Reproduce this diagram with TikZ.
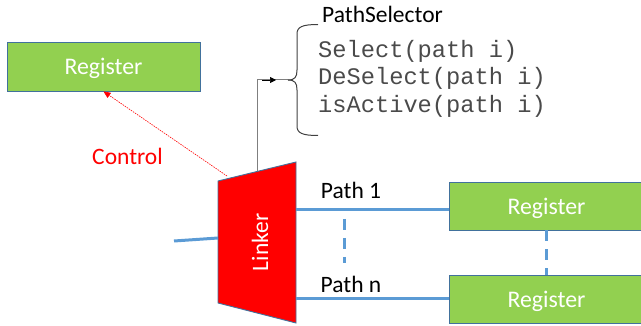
\documentclass[tikz,border=0pt]{standalone}
\usepackage{fontspec}
\setmainfont{Carlito}
\newfontfamily\monofnt{Liberation Mono}
\usetikzlibrary{arrows.meta}
\definecolor{regGreen}{HTML}{92D050}
\definecolor{regBorder}{HTML}{41719C}
\definecolor{wireBlue}{HTML}{5B9BD5}
\definecolor{linkRed}{HTML}{FF0000}
\definecolor{connGray}{HTML}{7F7F7F}
\definecolor{braceGray}{HTML}{404040}
\definecolor{monoGray}{HTML}{4A4A4A}
\tikzset{
  regbox/.style={draw=regBorder, line width=0.9pt, fill=regGreen, text=white,
    font=\fontsize{23.8}{26}\selectfont, inner sep=0pt, text depth=0pt},
  wire/.style={draw=wireBlue, line width=3pt},
  dashwire/.style={draw=wireBlue, line width=3pt, dash pattern=on 11pt off 8pt},
  lbl/.style={font=\fontsize{23.5}{26}\selectfont, inner sep=0pt},
  monotxt/.style={font=\monofnt\fontsize{23.7}{26}\selectfont, text=monoGray, inner sep=0pt, anchor=west},
}
\begin{document}
\begin{tikzpicture}[x=1pt,y=-1pt]
\useasboundingbox (0,0) rectangle (641,326);
% registers
\node[regbox, minimum width=193pt, minimum height=49pt] (regTop) at (103.5,66.5) {Register};
\node[regbox, minimum width=195pt, minimum height=48pt] (reg1) at (546.5,206) {Register};
\node[regbox, minimum width=195pt, minimum height=48pt] (regN) at (546.5,299) {Register};
% linker trapezoid
\coordinate (lTL) at (218,181);
\coordinate (lTR) at (296,162);
\coordinate (lBR) at (296,323);
\coordinate (lBL) at (218,303);
\draw[draw=regBorder, line width=0.9pt, fill=linkRed] (lTL) -- (lTR) -- (lBR) -- (lBL) -- cycle;
\node[lbl, text=white, rotate=90] (linker) at (260,242.5) {Linker};
% input wire
\coordinate (inL) at (174,241);
\coordinate (inR) at (218,238);
\draw[wire] (inL) -- (inR);
% path wires
\coordinate (p1L) at (296,210);
\coordinate (pnL) at (296,298.5);
\draw[wire] (p1L) -- (p1L -| reg1.west);
\draw[wire] (pnL) -- (pnL -| regN.west);
\node[lbl] (path1) at (351,190) {Path 1};
\node[lbl] (pathN) at (351,284) {Path n};
\coordinate (d1a) at (344,219);
\coordinate (d1b) at (344,263);
\draw[dashwire] (d1a) -- (d1b);
\draw[dashwire] (reg1.south) -- (regN.north);
% control arrow
\coordinate (ctrlStart) at (227,176);
\draw[draw=linkRed, line width=0.6pt, dash pattern=on 1.5pt off 1pt, -{Triangle[length=7pt,width=6pt]}] (ctrlStart) -- (regTop.south);
\node[lbl, text=linkRed] (control) at (127.5,156) {Control};
% selector connector
\coordinate (selBot) at (257,171.5);
\coordinate (braceTip) at (288,80);
\draw[draw=connGray, line width=1pt] (selBot) |- (braceTip);
\draw[draw=black, line width=0.6pt, -{Triangle[length=6pt,width=6pt]}] (262,80) -- (276,80);
% brace
\draw[draw=braceGray, line width=1pt] (braceTip) .. controls (295,80) and (297,77) .. (297,70)
  -- (297,34) .. controls (297,27) and (302,24.5) .. (318,24.5);
\draw[draw=braceGray, line width=1pt] (braceTip) .. controls (295,80) and (297,83) .. (297,90)
  -- (297,126) .. controls (297,133) and (302,135.5) .. (318,135.5);
\node[lbl, anchor=west] (selTitle) at (322,14.5) {PathSelector};
\node[monotxt] (m1) at (318,51) {Select(path i)};
\node[monotxt] (m2) at (318,78.5) {DeSelect(path i)};
\node[monotxt] (m3) at (318,106) {isActive(path i)};
\end{tikzpicture}
\end{document}
